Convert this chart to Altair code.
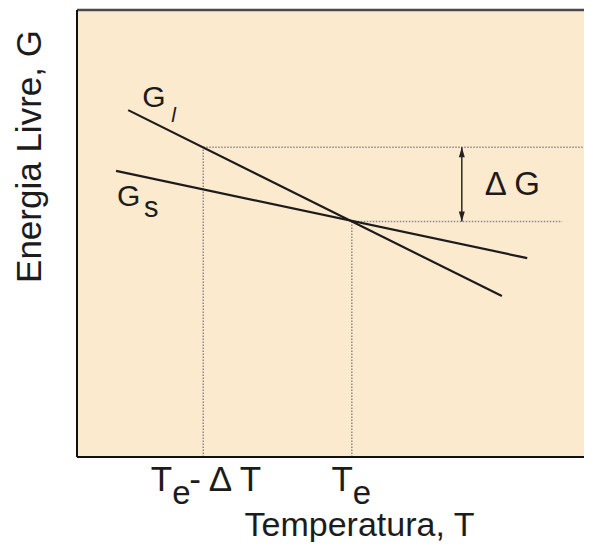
import altair as alt
import pandas as pd

# ---- values (arbitrary units, both axes 0..10) ----
x_domain = [0, 10]
y_domain = [0, 10]

T_e = 5.42          # equilibrium temperature
T_low = 2.49        # T_e - ΔT
G_top = 6.93        # G_l at T_e - ΔT
G_cross = 5.27      # G at T_e (crossing)

liquid_T = [1.01, 8.38]
liquid_G = [7.76, 3.60]
solid_T = [0.77, 8.88]
solid_G = [6.40, 4.45]

arrow_T = 7.59
top_guide_end = 10.0
low_guide_end = 9.57

x_title = "Temperatura, T"
y_title = "Energia Livre, G"

W, H = 507, 447
FONT = "Liberation Sans"
INK = "#1c1c1c"

xs = alt.Scale(domain=x_domain, nice=False, zero=False)
ys = alt.Scale(domain=y_domain, nice=False, zero=False)

lines_df = pd.DataFrame({
    "T": liquid_T + solid_T,
    "G": liquid_G + solid_G,
    "fase": ["l", "l", "s", "s"],
})

guide_df = pd.DataFrame({
    "x": [T_low, T_e, T_low, T_e],
    "x2": [top_guide_end, low_guide_end, T_low, T_e],
    "y": [G_top, G_cross, y_domain[0], y_domain[0]],
    "y2": [G_top, G_cross, G_top, G_cross],
})

guides = alt.Chart(guide_df).mark_rule(
    color="#8a8a8a", strokeDash=[1.5, 1.5], strokeWidth=1.5
).encode(
    x=alt.X("x:Q", scale=xs, axis=None),
    x2="x2:Q",
    y=alt.Y("y:Q", scale=ys, axis=None),
    y2="y2:Q",
)

lines = alt.Chart(lines_df).mark_line(color=INK, strokeWidth=2.2).encode(
    x=alt.X("T:Q", scale=xs, axis=None),
    y=alt.Y("G:Q", scale=ys, axis=None),
    detail="fase:N",
)


def xd(v):
    return alt.XDatum(v, scale=xs, axis=None)


def yd(v):
    return alt.YDatum(v, scale=ys, axis=None)


# frame: top (grey), left and bottom (black)
top_border = alt.Chart().mark_rule(color="#4a4a4a", strokeWidth=2.5).encode(
    x=xd(x_domain[0]), x2=alt.X2Datum(x_domain[1]), y=yd(y_domain[1])
)
left_border = alt.Chart().mark_rule(color="#111111", strokeWidth=2).encode(
    x=xd(x_domain[0]), y=yd(y_domain[0]), y2=alt.Y2Datum(y_domain[1])
)
bottom_border = alt.Chart().mark_rule(color="#111111", strokeWidth=2).encode(
    x=xd(x_domain[0]), x2=alt.X2Datum(x_domain[1]), y=yd(y_domain[0])
)

arrow_shaft = alt.Chart().mark_rule(color="#2a2a2a", strokeWidth=1.5).encode(
    x=xd(arrow_T), y=yd(G_cross), y2=alt.Y2Datum(G_top)
)
arrow_up = alt.Chart().mark_point(
    shape="M0,0L-0.3,1L0.3,1Z", filled=True, size=400, color="#222222", opacity=1
).encode(x=xd(arrow_T), y=yd(G_top))
arrow_down = alt.Chart().mark_point(
    shape="M0,0L-0.3,-1L0.3,-1Z", filled=True, size=400, color="#222222", opacity=1
).encode(x=xd(arrow_T), y=yd(G_cross))


def label(text, xv, yv, dx, dy, size, align="left", style="normal", angle=0):
    return alt.Chart().mark_text(
        text=text, dx=dx, dy=dy, fontSize=size, font=FONT, fontStyle=style,
        align=align, baseline="alphabetic", color=INK, angle=angle,
    ).encode(x=xd(xv), y=yd(yv))


x_mid = (x_domain[0] + x_domain[1]) / 2
y_mid = (y_domain[0] + y_domain[1]) / 2

texts = [
    # axis titles
    label(x_title, x_mid, y_domain[0], 29, 79, 34, align="center"),
    label(y_title, x_domain[0], y_mid, 77, -36, 35, align="center", angle=270),
    # tick labels below the axis
    label("T", T_low, y_domain[0], -31, 34, 35, align="right"),
    label("e", T_low, y_domain[0], -31, 47, 33),
    label("- \u0394 T", T_low, y_domain[0], -14, 34, 35),
    label("T", T_e, y_domain[0], 1, 34, 35, align="right"),
    label("e", T_e, y_domain[0], 1, 47, 33),
    # curve labels
    label("G", liquid_T[0], liquid_G[0], 14, -3, 30),
    label("l", liquid_T[0], liquid_G[0], 43, 12, 21, style="italic"),
    label("G", solid_T[0], solid_G[0], 1, 35, 30),
    label("s", solid_T[0], solid_G[0], 28, 46, 29),
    # ΔG
    label("\u0394 G", arrow_T, G_cross, 23, -26, 33),
]

chart = alt.layer(
    guides, lines, top_border, left_border, bottom_border,
    arrow_shaft, arrow_up, arrow_down, *texts
).properties(
    width=W, height=H,
    background="white",
    autosize=alt.AutoSizeParams(type="none"),
    padding={"left": 69, "top": 2, "right": 0, "bottom": 85},
).configure_view(
    fill="#FCEACF", stroke="transparent", strokeWidth=0
)

chart.save("out.html", embed_options={"renderer": "svg", "actions": False})
